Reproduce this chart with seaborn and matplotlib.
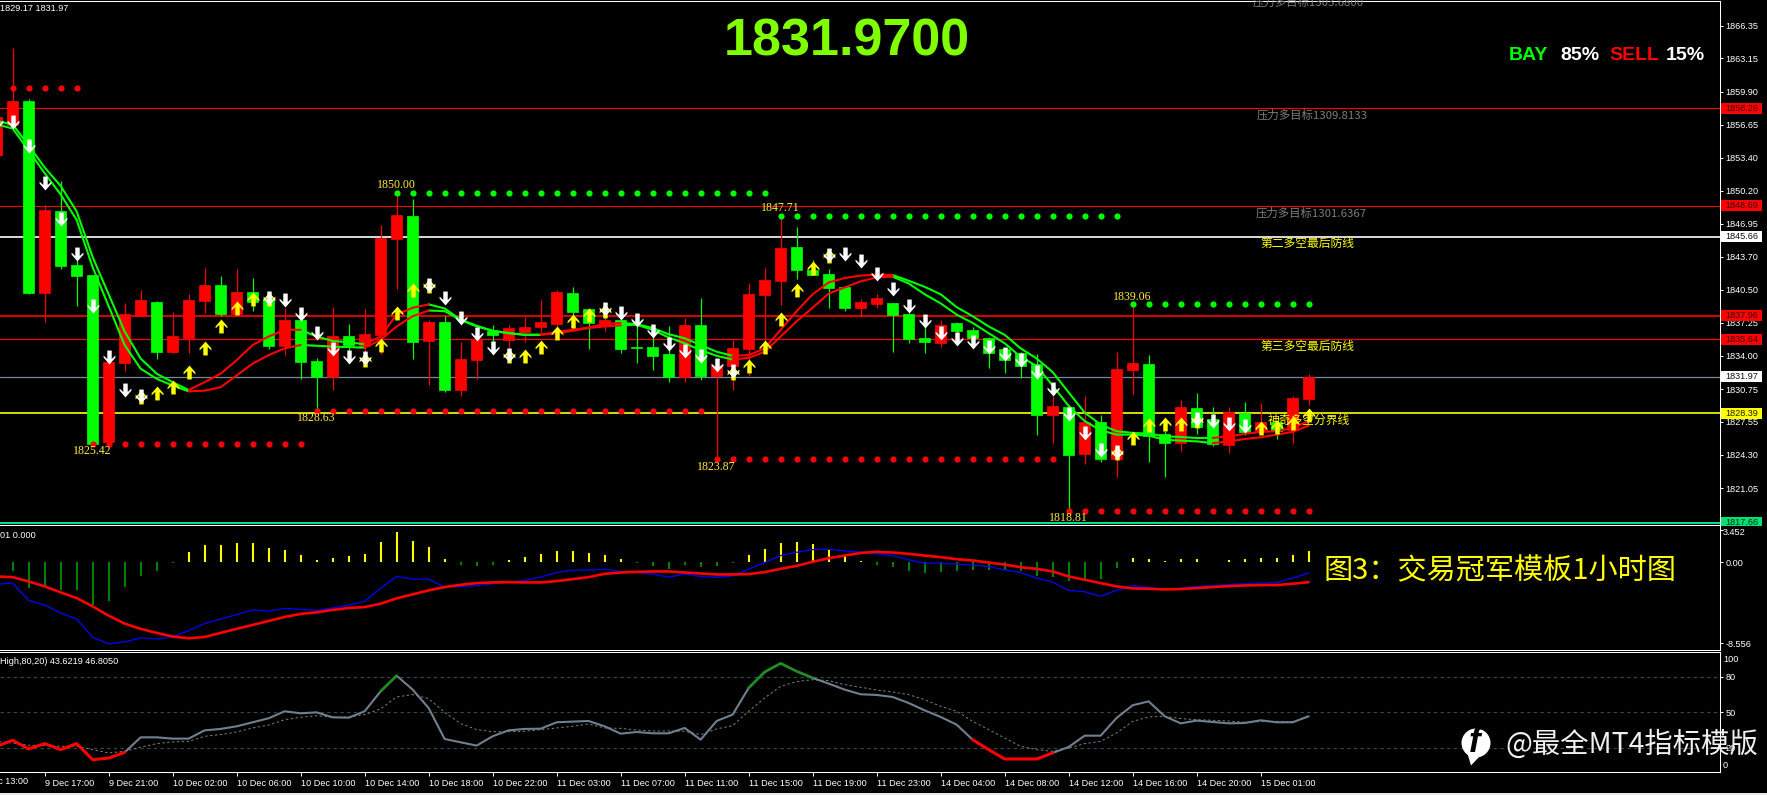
import matplotlib
matplotlib.use("Agg")
import matplotlib.pyplot as plt
from matplotlib.path import Path
from matplotlib.patches import Rectangle, Circle, Polygon
from matplotlib.transforms import Bbox, TransformedBbox
import numpy as np
import seaborn as sns

# ---------------- data ----------------
start_index = -1
opens = [1853.69,1856.61,1859.00,1840.14,1848.16,1842.89,1841.90,1825.53,1833.32,1837.95,1839.28,1834.38,1835.73,1839.35,1840.94,1838.09,1840.24,1839.55,1834.94,1837.56,1833.48,1831.96,1835.93,1834.94,1836.07,1845.48,1847.70,1835.44,1837.29,1830.70,1833.58,1836.46,1835.57,1836.33,1836.83,1837.09,1840.14,1838.55,1836.89,1837.56,1834.84,1834.84,1834.18,1831.96,1836.99,1832.02,1833.02,1834.67,1839.94,1841.37,1844.65,1842.43,1842.00,1840.74,1838.68,1839.11,1839.18,1838.09,1835.73,1835.27,1837.19,1836.53,1835.80,1834.67,1834.24,1833.18,1828.25,1828.97,1824.37,1827.52,1823.91,1832.59,1833.18,1826.39,1825.46,1828.88,1827.78,1825.26,1828.45,1826.62,1827.52,1826.79,1829.77]
closes = [1857.44,1859.00,1840.14,1848.29,1842.79,1841.80,1825.42,1833.38,1838.09,1839.45,1834.38,1835.93,1839.45,1840.94,1838.09,1840.24,1839.28,1834.94,1837.56,1833.38,1831.96,1835.93,1835.04,1836.13,1845.58,1847.80,1835.34,1837.29,1830.66,1833.68,1835.54,1836.07,1836.73,1836.83,1837.29,1840.24,1838.29,1837.19,1837.56,1834.67,1834.77,1833.98,1831.96,1836.99,1832.02,1833.15,1834.74,1840.04,1841.43,1844.55,1842.39,1841.90,1840.64,1838.68,1839.25,1839.71,1837.99,1835.64,1835.34,1837.06,1836.43,1835.73,1834.24,1833.62,1832.98,1828.25,1829.07,1824.27,1827.52,1823.91,1832.69,1833.28,1826.16,1825.46,1828.97,1827.05,1825.40,1828.48,1826.52,1827.52,1826.62,1829.87,1831.97]
highs = [1858.93,1864.16,1859.16,1848.79,1851.14,1843.36,1841.90,1833.75,1839.15,1840.44,1839.38,1838.32,1840.04,1842.59,1841.80,1842.49,1841.63,1840.37,1838.72,1837.89,1833.75,1838.78,1837.09,1838.58,1846.83,1850.00,1849.35,1837.56,1837.89,1835.34,1836.23,1836.99,1836.99,1837.79,1839.45,1840.44,1840.74,1838.72,1839.05,1838.39,1837.56,1836.89,1836.96,1837.69,1839.65,1833.58,1835.54,1841.10,1842.59,1847.71,1846.67,1843.36,1842.56,1840.74,1839.55,1840.11,1839.18,1838.22,1837.39,1837.56,1837.29,1836.79,1835.87,1834.74,1834.41,1834.18,1830.10,1829.24,1830.10,1828.25,1834.34,1839.06,1834.14,1826.62,1829.64,1830.37,1828.97,1828.97,1829.44,1829.37,1827.62,1830.03,1832.26]
lows = [1853.69,1856.44,1840.08,1837.33,1842.49,1838.88,1825.42,1825.45,1832.55,1837.95,1833.68,1834.28,1834.28,1838.19,1837.95,1837.95,1838.39,1834.64,1834.08,1831.76,1828.63,1830.70,1834.08,1834.24,1834.21,1840.54,1833.68,1831.16,1830.43,1830.10,1831.76,1835.07,1833.42,1835.40,1836.23,1835.64,1836.73,1834.64,1836.40,1834.31,1833.32,1832.59,1831.43,1831.43,1831.66,1823.87,1830.66,1832.02,1834.41,1838.98,1841.50,1841.90,1838.72,1838.39,1837.79,1838.65,1834.41,1835.24,1834.31,1834.84,1835.40,1834.74,1832.82,1832.32,1831.86,1826.26,1825.46,1818.81,1823.41,1823.58,1822.15,1830.27,1823.61,1822.15,1824.67,1826.32,1825.13,1824.54,1826.29,1826.32,1825.86,1825.46,1829.17]

ma_upper = [1857.01,1856.68,1854.62,1852.47,1850.65,1848.16,1843.69,1840.04,1836.40,1833.75,1832.26,1831.43,1830.66,1831.43,1832.26,1833.58,1835.07,1835.90,1836.56,1836.56,1835.90,1835.47,1835.34,1835.14,1835.90,1838.06,1838.72,1839.05,1838.65,1837.56,1836.96,1836.46,1836.23,1836.07,1836.07,1836.33,1836.56,1836.79,1837.13,1837.23,1837.13,1836.73,1836.13,1835.73,1835.07,1834.41,1834.01,1834.08,1834.74,1836.56,1838.39,1840.04,1841.20,1841.63,1841.87,1841.96,1841.93,1841.37,1840.77,1840.04,1838.78,1837.89,1836.89,1836.07,1834.74,1833.75,1832.42,1830.43,1828.45,1827.28,1826.62,1826.46,1826.39,1826.13,1826.06,1825.96,1825.96,1826.13,1826.36,1826.56,1826.62,1826.95,1827.62]
ma_lower = [1856.68,1856.28,1854.12,1851.90,1849.82,1847.33,1842.69,1838.88,1835.07,1832.75,1831.76,1831.10,1830.53,1830.60,1830.93,1832.09,1833.25,1834.08,1834.74,1835.07,1835.00,1834.91,1834.87,1834.81,1835.57,1836.89,1837.89,1838.45,1838.39,1837.52,1836.89,1836.46,1836.23,1836.07,1836.07,1836.23,1836.46,1836.73,1836.89,1837.00,1837.06,1836.56,1835.80,1835.24,1834.58,1834.01,1833.65,1833.81,1834.41,1835.90,1837.39,1838.72,1840.11,1840.71,1841.30,1841.70,1841.77,1841.10,1840.04,1839.15,1838.05,1837.23,1836.23,1835.24,1833.91,1833.02,1831.10,1829.11,1827.62,1826.72,1826.29,1826.29,1826.19,1825.79,1825.70,1825.63,1825.46,1825.63,1825.86,1826.03,1826.29,1826.56,1827.18]
ma_green_runs = [(-1,11),(18,22),(26,33),(38,45),(55,75)]
ma_red_runs = [(11,18),(22,26),(33,38),(45,55),(75,81)]

white_idx = [-1,0,1,2,3,4,5,6,7,8,16,17,18,19,20,21,22,26,27,28,29,30,31,37,38,39,40,41,42,43,44,45,51,52,53,54,55,56,57,58,59,60,61,62,63,64,65,66,67,68,69,74,75,76,77]
white_price = [1856.94,1856.94,1854.56,1850.98,1847.40,1843.95,1838.88,1833.85,1830.70,1830.10,1839.71,1839.45,1838.12,1836.23,1834.67,1833.91,1833.75,1840.97,1839.71,1837.72,1836.13,1834.81,1834.08,1838.55,1838.22,1837.56,1836.40,1835.14,1834.48,1833.98,1833.08,1832.49,1843.92,1844.02,1843.26,1842.03,1840.54,1838.88,1837.39,1836.23,1835.67,1835.34,1834.84,1834.18,1833.58,1832.42,1830.77,1828.28,1826.46,1824.80,1824.63,1827.78,1827.62,1827.38,1827.12]
yellow_idx = [8,9,10,11,12,13,14,15,16,22,23,24,25,26,31,32,33,34,35,36,37,45,46,47,48,49,50,51,69,70,71,72,73,74,78,79,80,81]
yellow_price = [1829.94,1830.37,1831.00,1832.42,1834.74,1836.89,1838.65,1839.58,1839.55,1833.58,1835.07,1838.22,1840.44,1840.87,1834.01,1834.01,1834.84,1836.23,1837.39,1838.05,1838.39,1832.35,1833.02,1834.91,1837.66,1840.44,1842.63,1843.79,1824.47,1825.96,1827.19,1827.38,1827.38,1827.62,1826.96,1827.05,1827.45,1828.18]

red_dot_levels = [1860.25,1825.42,1828.63,1823.87,1818.81]
red_dot_from = [0,5,19,44,66]
red_dot_to = [4,18,43,65,81]
green_dot_levels = [1850.00,1847.71,1839.06]
green_dot_from = [24,48,70]
green_dot_to = [47,69,81]

extreme_labels = ["1825.42","1850.00","1828.63","1847.71","1823.87","1839.06","1818.81"]
extreme_idx = [5,24,19,48,44,70,66]
extreme_price = [1825.42,1850.00,1828.63,1847.71,1823.87,1839.06,1818.81]
extreme_above = [False,True,False,True,False,True,False]

price_ticks = [1866.35,1863.15,1859.90,1856.65,1853.40,1850.20,1846.95,1843.70,1840.50,1837.25,1834.00,1830.75,1827.55,1824.30,1821.05]
level_values = [1858.26,1848.69,1837.96,1835.64,1845.66,1831.97,1828.39,1817.66]
level_colors = ["#ff0000","#ff0000","#ff0000","#ff0000","#ffffff","#778899","#ffff00","#00fa9a"]
level_widths = [0.8,0.8,1.2,0.9,1.2,0.9,1.2,1.3]

macd_hist = [-0.91,-2.70,-2.67,-2.91,-2.91,-4.49,-4.07,-2.67,-1.44,-0.91,-0.07,1.09,1.82,1.82,2.04,2.04,1.51,1.30,0.77,0.25,0.46,0.67,0.88,2.14,3.19,2.25,1.61,0.35,-0.28,-0.39,-0.28,0.25,0.56,0.88,1.19,1.19,0.98,0.77,0.35,-0.04,-0.39,-0.70,-0.28,-0.49,-0.39,-0.07,0.77,1.40,2.04,2.14,1.93,1.40,0.67,0.14,-0.28,-0.49,-0.91,-1.12,-1.02,-0.91,-0.81,-0.81,-0.81,-0.91,-1.44,-1.54,-1.96,-1.79,-1.75,-0.60,0.46,0.35,0.14,0.35,0.35,-0.02,0.25,0.35,0.46,0.46,0.77,1.19]
macd_blue = [-2.32,-2.21,-4.04,-4.53,-5.37,-6.00,-7.93,-8.63,-8.42,-8.00,-8.11,-7.90,-7.23,-6.49,-6.00,-5.54,-5.05,-5.16,-4.88,-4.98,-5.09,-4.84,-4.53,-4.14,-2.74,-1.51,-1.79,-1.79,-2.63,-2.56,-2.49,-2.28,-2.11,-1.93,-1.58,-1.09,-0.84,-0.84,-0.74,-0.98,-1.09,-1.26,-1.58,-1.26,-1.51,-1.61,-1.44,-0.74,-0.04,0.70,1.05,1.33,1.37,1.19,1.09,0.88,0.70,0.25,-0.11,-0.11,-0.21,-0.32,-0.46,-0.81,-1.09,-1.68,-2.11,-2.98,-3.12,-3.61,-2.98,-2.46,-2.67,-2.84,-2.77,-2.56,-2.49,-2.35,-2.28,-2.21,-2.14,-1.68,-1.16]
macd_red = [-1.51,-1.58,-2.04,-2.56,-3.19,-3.79,-4.67,-5.65,-6.49,-7.05,-7.47,-7.86,-8.04,-7.90,-7.47,-7.05,-6.63,-6.21,-5.79,-5.47,-5.30,-5.05,-4.84,-4.74,-4.39,-3.82,-3.40,-2.98,-2.63,-2.39,-2.21,-2.14,-2.11,-2.14,-2.14,-2.00,-1.79,-1.58,-1.23,-1.09,-1.02,-0.98,-0.98,-1.09,-1.19,-1.30,-1.30,-1.26,-1.05,-0.70,-0.39,0.04,0.42,0.70,0.98,1.09,1.02,0.88,0.70,0.53,0.32,0.18,-0.04,-0.25,-0.53,-0.70,-0.98,-1.51,-1.86,-2.21,-2.56,-2.77,-2.81,-2.88,-2.84,-2.74,-2.63,-2.53,-2.46,-2.42,-2.42,-2.28,-2.11]
macd_ticks = [3.452,0.00,-8.556]
macd_tick_labels = ["","0.00","-8.556"]

rsi_main = [21.4,26.5,19.2,23.7,18.6,23.7,10.1,11.5,16.3,29.0,29.0,27.9,27.9,34.9,36.1,38.3,41.7,45.1,51.0,49.3,50.1,45.9,45.6,51.0,67.9,81.1,69.3,53.8,27.6,24.8,22.0,29.9,34.9,36.1,36.3,41.7,42.3,42.8,38.3,32.1,33.5,32.4,32.4,36.9,27.0,42.8,48.2,70.7,84.2,91.5,84.8,79.2,74.4,69.3,65.4,64.8,63.1,58.0,51.8,46.2,39.7,27.0,18.6,10.7,10.7,10.7,15.8,20.8,30.4,30.4,45.4,56.1,59.4,46.8,40.8,43.1,42.0,40.8,41.1,43.4,41.7,41.7,46.8]
rsi_signal = [25.6,24.2,22.3,22.0,21.4,21.4,18.6,15.8,17.2,20.6,23.7,25.1,25.6,29.9,31.3,33.5,36.9,39.4,43.9,45.9,47.3,45.9,46.2,48.2,53.0,63.1,65.1,61.7,50.1,40.6,35.5,33.8,33.8,34.1,35.5,36.9,38.3,40.3,36.9,36.6,35.2,34.4,34.4,34.1,31.3,36.1,38.9,51.0,62.3,72.1,76.1,77.7,76.9,73.5,71.3,69.0,67.3,65.1,60.8,55.2,51.0,42.5,35.5,28.4,21.4,18.6,17.2,20.0,23.7,25.6,32.7,42.5,46.2,46.8,44.8,43.9,43.4,42.8,41.7,42.3,42.5,42.3,46.2]
rsi_levels = [80,50,20]
rsi_grey_runs = [(7,23),(24,46),(50,60),(65,81)]
rsi_green_runs = [(23,24),(46,50)]
rsi_red_runs = [(-1,7),(60,65)]

time_ticks = [2,6,10,14,18,22,26,30,34,38,42,46,50,54,58,62,66,70,74,78]
time_labels = ["9 Dec 17:00","9 Dec 21:00","10 Dec 02:00","10 Dec 06:00","10 Dec 10:00","10 Dec 14:00","10 Dec 18:00","10 Dec 22:00","11 Dec 03:00","11 Dec 07:00","11 Dec 11:00","11 Dec 15:00","11 Dec 19:00","11 Dec 23:00","14 Dec 04:00","14 Dec 08:00","14 Dec 12:00","14 Dec 16:00","14 Dec 20:00","15 Dec 01:00"]

# ---------------- style ----------------
W, H = 1767, 795
sns.set_theme(style="dark", rc={"figure.facecolor": "black", "axes.facecolor": "black",
                                "axes.grid": False, "savefig.facecolor": "black",
                                "text.color": "white", "xtick.color": "white", "ytick.color": "white"})
CJK = ["Noto Sans CJK SC", "DejaVu Sans"]
plt.rcParams["font.family"] = ["Liberation Sans", "DejaVu Sans"]
RED, GREEN, YELLOW = "#ff0000", "#00ff00", "#ffff00"
AXFS = 6.6

fig = plt.figure(figsize=(W / 100, H / 100), dpi=100)

def panel(top, bottom):
    return fig.add_axes([0, 1 - bottom / H, 1720 / W, (bottom - top) / H])

ax = panel(1, 526)
ax2 = panel(525, 650)
ax3 = panel(652, 772)
over = fig.add_axes([0, 0, 1, 1], facecolor="none", zorder=20)
over.set_xlim(0, W); over.set_ylim(H, 0); over.axis("off")

XLIM = (-0.79, 106.71)
for a in (ax, ax2, ax3):
    a.set_xlim(*XLIM)
    a.set_xticks([])
    a.yaxis.tick_right()
    a.grid(False)
    for s in a.spines.values():
        s.set_color("white"); s.set_linewidth(0.75)
    a.spines["left"].set_visible(False)
    a.tick_params(axis="y", length=2.5, width=0.7, pad=1.5, labelsize=AXFS, colors="white", left=False, right=True)

idx = np.arange(start_index, start_index + len(opens))
o, c, hi, lo = map(np.array, (opens, closes, highs, lows))
cols = [RED if b > a else GREEN for a, b in zip(o, c)]

# ---------- main panel ----------
ax.set_ylim(1817.34, 1868.77)
ax.set_yticks(price_ticks, [f"{t:.2f}" for t in price_ticks])
for v, col, lw in zip(level_values, level_colors, level_widths):
    ax.axhline(v, color=col, lw=lw, zorder=1)
ax.vlines(idx, lo, hi, colors=cols, lw=0.9, zorder=2)
ax.bar(idx, np.abs(c - o), bottom=np.minimum(o, c), width=0.66, color=cols,
       edgecolor=cols, linewidth=0.5, zorder=2.1)

for levels, a0, a1, col in ((red_dot_levels, red_dot_from, red_dot_to, RED),
                            (green_dot_levels, green_dot_from, green_dot_to, GREEN)):
    for lv, f, t in zip(levels, a0, a1):
        xs = np.arange(f, t + 1)
        sns.scatterplot(x=xs, y=np.full(len(xs), lv), color=col, s=20, linewidth=0, ax=ax, zorder=3)

def seg(a, series, runs, col, lw, z):
    arr = np.array(series)
    for f, t in runs:
        i0, i1 = f - start_index, t - start_index + 1
        sns.lineplot(x=idx[i0:i1], y=arr[i0:i1], color=col, lw=lw, ax=a, zorder=z,
                     errorbar=None, legend=False)

for s in (ma_upper, ma_lower):
    seg(ax, s, ma_green_runs, GREEN, 1.5, 4)
    seg(ax, s, ma_red_runs, RED, 1.5, 4)

up = Path([(0, 1), (0.85, 0.02), (0.85, -0.28), (0.32, 0.22), (0.32, -1), (-0.32, -1), (-0.32, 0.22), (-0.85, -0.28), (-0.85, 0.02), (0, 1)], closed=True)
down = Path(np.array(up.vertices) * [1, -1], up.codes)
sns.scatterplot(x=yellow_idx, y=yellow_price, marker=up, color=YELLOW, s=100, linewidth=0, ax=ax, zorder=5)
sns.scatterplot(x=white_idx, y=white_price, marker=down, color="white", s=100, linewidth=0, ax=ax, zorder=5.1)

for lab, i, p, above in zip(extreme_labels, extreme_idx, extreme_price, extreme_above):
    ax.annotate(lab, (i, p), xytext=(0, 7.5 if above else -7.5), textcoords="offset pixels",
                ha="center", va="center", color="#ffe840", fontsize=8.6,
                family="Liberation Serif", zorder=7)

tag_styles = {1858.26: (RED, "#3a0000"), 1848.69: (RED, "#3a0000"), 1837.96: (RED, "#3a0000"), 1835.64: (RED, "#3a0000"),
              1845.66: ("white", "#101010"), 1831.97: ("white", "#101010"), 1828.39: (YELLOW, "#202000"), 1817.66: ("#00e070", "#003010")}
ytr = ax.get_yaxis_transform()
main_clip = TransformedBbox(Bbox([[0, 1 - 525.5 / H], [1, 1]]), fig.transFigure)
for v, (fc, tc) in tag_styles.items():
    r = Rectangle((1 + 1.2 / 1720, v - 0.54), 41 / 1720, 1.08, transform=ytr, fc=fc, ec="none", zorder=10)
    ax.add_patch(r)
    r.set_clip_box(main_clip)
    tx = ax.text(1 + 21.5 / 1720, v, f"{v:.2f}", transform=ytr, ha="center", va="center", color=tc,
                 fontsize=AXFS, zorder=11, clip_on=True)
    tx.set_clip_box(main_clip)

# ---------- MACD panel ----------
ax2.set_ylim(-9.28, 3.93)
ax2.set_yticks(macd_ticks, macd_tick_labels)
hx = np.arange(0, len(macd_hist))
hv = np.array(macd_hist)
ax2.vlines(hx, 0, hv, colors=[YELLOW if v > 0 else "#008000" for v in hv], lw=1.5, zorder=2)
sns.lineplot(x=idx, y=macd_blue, color="#0000ff", lw=0.9, ax=ax2, zorder=3, errorbar=None)
sns.lineplot(x=idx, y=macd_red, color=RED, lw=1.9, ax=ax2, zorder=4, errorbar=None)

# ---------- RSI panel ----------
ax3.set_ylim(-0.3, 101.1)
ax3.set_yticks(rsi_levels, [str(v) for v in rsi_levels])
for v in rsi_levels:
    ax3.axhline(v, color="#2f4f4f", lw=0.8, dashes=(3, 3), zorder=1)
sns.lineplot(x=idx, y=rsi_signal, color="#808080", lw=0.7, ax=ax3, zorder=2, errorbar=None, linestyle=(0, (2.5, 2.5)))
seg(ax3, rsi_main, rsi_grey_runs, "#708090", 1.5, 3)
seg(ax3, rsi_main, rsi_green_runs, "#228b22", 2.0, 3)
seg(ax3, rsi_main, rsi_red_runs, RED, 2.2, 3)
ax3.set_xticks(time_ticks, time_labels, ha="left", fontsize=AXFS, color="white")
ax3.tick_params(axis="x", length=2.7, width=0.7, pad=2.0, bottom=True, colors="white")
for a in (ax, ax2, ax3):
    a.set_ylabel(""); a.set_xlabel("")

# ---------- overlay text (pixel placed) ----------
def t(x, y, s, **k):
    k.setdefault("va", "center")
    over.text(x, y, s, **k)

t(847, 42.5, "1831.9700", ha="center", color="#7fff00", fontsize=37.5, fontweight="bold")
for x, s, col in ((1509, "BAY", GREEN), (1560, "85%", "white"), (1609, "SELL", RED), (1666, "15%", "white")):
    t(x, 55, s, ha="left", color=col, fontsize=14, fontweight="bold")

t(0, 8.5, "1829.17 1831.97", ha="left", color="white", fontsize=AXFS)
t(0, 535, "01 0.000", ha="left", color="white", fontsize=AXFS)
t(0, 662, "High,80,20) 43.6219 46.8050", ha="left", color="white", fontsize=AXFS)
t(-21, 781.7, "9 Dec 13:00", ha="left", color="white", fontsize=AXFS)

grey = "#7d7d7d"
t(1253, 2.5, "压力多目标1303.6800", ha="left", color=grey, fontsize=8.2, family=CJK)
t(1257, 115.5, "压力多目标1309.8133", ha="left", color=grey, fontsize=8.2, family=CJK)
t(1256, 213, "压力多目标1301.6367", ha="left", color=grey, fontsize=8.2, family=CJK)
t(1260, 243, "第二多空最后防线", ha="left", color=YELLOW, fontsize=8.5, family=CJK)
t(1260, 346.5, "第三多空最后防线", ha="left", color=YELLOW, fontsize=8.5, family=CJK)
t(1268, 420, "神奇多空分界线", ha="left", color=YELLOW, fontsize=8.5, family=CJK)
t(1323, 571, "图3：交易冠军模板1小时图", ha="left", color=YELLOW, fontsize=21, family=CJK)
t(1505, 745, "@最全MT4指标模版", ha="left", color="#f0f0f0", fontsize=20.4, family=CJK)

# right-axis labels shifted off the scale ends, as in the source
t(1723, 532.7, "3.452", ha="left", color="white", fontsize=AXFS)
t(1723, 660, "100", ha="left", color="white", fontsize=AXFS)
t(1723, 765.5, "0", ha="left", color="white", fontsize=AXFS)

# logo
over.add_patch(Circle((1476, 743), 14.5, fc="white", ec="none"))
over.add_patch(Polygon([(1467, 752), (1480, 756), (1471, 765.5)], fc="white", ec="none"))
t(1475, 743, "f", ha="center", color="black", fontsize=25, fontweight="bold", style="italic", family="Liberation Sans")

# frame strips
over.add_patch(Rectangle((0, 793), W, 2, fc="#e8e8e8", ec="none"))

fig.savefig("out.png", dpi=100, facecolor="black")
